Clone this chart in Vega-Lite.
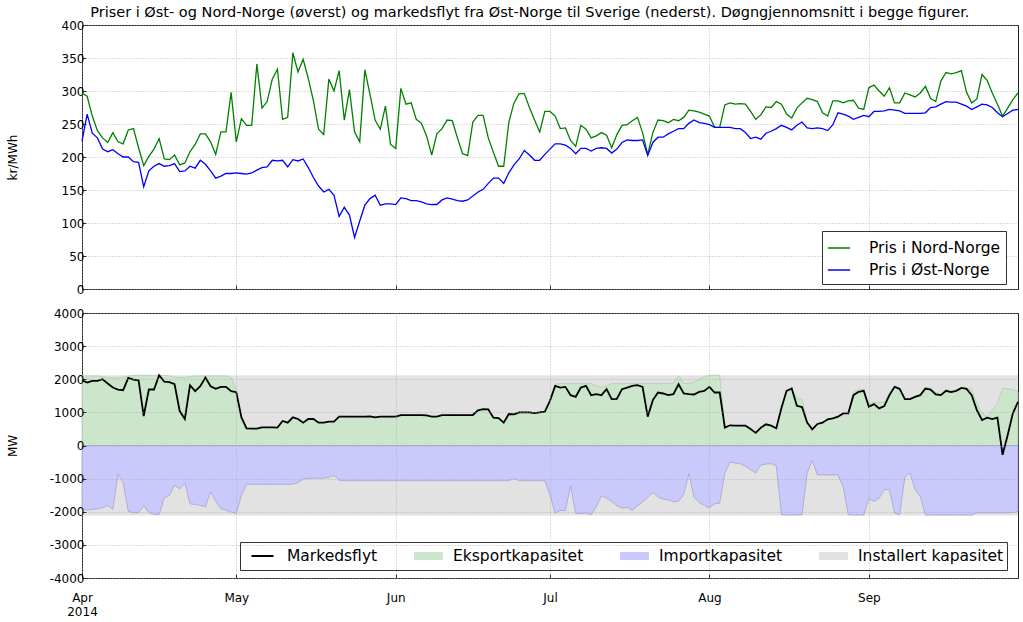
{
"$schema": "https://vega.github.io/schema/vega-lite/v6.json",
"background": "white",
"padding": 5,
"title": {"text": "Priser i Øst- og Nord-Norge (øverst) og markedsflyt fra Øst-Norge til Sverige (nederst). Døgngjennomsnitt i begge figurer.", "font": "DejaVu Sans", "fontSize": 14.5, "fontWeight": "normal", "color": "black", "anchor": "middle", "offset": -2, "dx": 16},
"config": {
  "font": "DejaVu Sans",
  "view": {"stroke": "#222", "strokeWidth": 1},
  "axis": {"labelFont": "DejaVu Sans", "labelFontSize": 12, "labelColor": "black", "titleFont": "DejaVu Sans", "titleFontSize": 12, "titleFontWeight": "normal", "titleColor": "black", "domain": false, "gridColor": "#aaaaaa", "gridDash": [1, 2], "gridWidth": 0.8, "tickColor": "#333", "tickSize": -4, "labelFlush": false, "labelOverlap": false}
},
"spacing": 24,
"bounds": "flush",
"resolve": {"scale": {"color": "independent"}, "legend": {"color": "independent"}},
"data": {"values": [
{"date":"2014-04-01","nord":297,"ost":224,"flyt":1970,"eksport":2100,"import":-1910},
{"date":"2014-04-02","nord":292,"ost":265,"flyt":1900,"eksport":2100,"import":-1950},
{"date":"2014-04-03","nord":262,"ost":236,"flyt":1950,"eksport":2100,"import":-1930},
{"date":"2014-04-04","nord":240,"ost":229,"flyt":1950,"eksport":2100,"import":-1910},
{"date":"2014-04-05","nord":229,"ost":212,"flyt":2000,"eksport":2080,"import":-1880},
{"date":"2014-04-06","nord":222,"ost":208,"flyt":1870,"eksport":2050,"import":-1810},
{"date":"2014-04-07","nord":237,"ost":211,"flyt":1750,"eksport":2040,"import":-1930},
{"date":"2014-04-08","nord":223,"ost":205,"flyt":1690,"eksport":2040,"import":-860},
{"date":"2014-04-09","nord":220,"ost":200,"flyt":1670,"eksport":2060,"import":-1130},
{"date":"2014-04-10","nord":241,"ost":200,"flyt":2040,"eksport":2100,"import":-1990},
{"date":"2014-04-11","nord":243,"ost":193,"flyt":1990,"eksport":2120,"import":-2030},
{"date":"2014-04-12","nord":214,"ost":192,"flyt":1970,"eksport":2120,"import":-2030},
{"date":"2014-04-13","nord":187,"ost":155,"flyt":890,"eksport":2120,"import":-1810},
{"date":"2014-04-14","nord":201,"ost":179,"flyt":1690,"eksport":2120,"import":-2030},
{"date":"2014-04-15","nord":212,"ost":186,"flyt":1690,"eksport":2120,"import":-2080},
{"date":"2014-04-16","nord":228,"ost":190,"flyt":2120,"eksport":2120,"import":-2080},
{"date":"2014-04-17","nord":197,"ost":186,"flyt":1930,"eksport":2120,"import":-1580},
{"date":"2014-04-18","nord":196,"ost":187,"flyt":1910,"eksport":2100,"import":-1510},
{"date":"2014-04-19","nord":203,"ost":190,"flyt":1850,"eksport":2060,"import":-1200},
{"date":"2014-04-20","nord":188,"ost":178,"flyt":1040,"eksport":2050,"import":-1310},
{"date":"2014-04-21","nord":191,"ost":179,"flyt":800,"eksport":2050,"import":-1130},
{"date":"2014-04-22","nord":208,"ost":186,"flyt":1820,"eksport":2080,"import":-1760},
{"date":"2014-04-23","nord":219,"ost":183,"flyt":1640,"eksport":2100,"import":-1780},
{"date":"2014-04-24","nord":235,"ost":195,"flyt":1790,"eksport":2100,"import":-1810},
{"date":"2014-04-25","nord":235,"ost":189,"flyt":2050,"eksport":2100,"import":-1850},
{"date":"2014-04-26","nord":223,"ost":179,"flyt":1790,"eksport":2100,"import":-1400},
{"date":"2014-04-27","nord":204,"ost":168,"flyt":1710,"eksport":2100,"import":-1680},
{"date":"2014-04-28","nord":238,"ost":171,"flyt":1770,"eksport":2100,"import":-1910},
{"date":"2014-04-29","nord":238,"ost":175,"flyt":1770,"eksport":2100,"import":-1950},
{"date":"2014-04-30","nord":298,"ost":175,"flyt":1640,"eksport":2050,"import":-2010},
{"date":"2014-05-01","nord":223,"ost":176,"flyt":1610,"eksport":1650,"import":-2050},
{"date":"2014-05-02","nord":258,"ost":175,"flyt":850,"eksport":850,"import":-1500},
{"date":"2014-05-03","nord":248,"ost":174,"flyt":520,"eksport":520,"import":-1170},
{"date":"2014-05-04","nord":248,"ost":176,"flyt":510,"eksport":510,"import":-1170},
{"date":"2014-05-05","nord":341,"ost":180,"flyt":510,"eksport":510,"import":-1170},
{"date":"2014-05-06","nord":274,"ost":184,"flyt":550,"eksport":550,"import":-1170},
{"date":"2014-05-07","nord":284,"ost":185,"flyt":550,"eksport":550,"import":-1170},
{"date":"2014-05-08","nord":318,"ost":195,"flyt":550,"eksport":550,"import":-1170},
{"date":"2014-05-09","nord":333,"ost":194,"flyt":540,"eksport":540,"import":-1170},
{"date":"2014-05-10","nord":257,"ost":195,"flyt":740,"eksport":740,"import":-1170},
{"date":"2014-05-11","nord":260,"ost":185,"flyt":690,"eksport":690,"import":-1170},
{"date":"2014-05-12","nord":358,"ost":196,"flyt":850,"eksport":850,"import":-1170},
{"date":"2014-05-13","nord":329,"ost":194,"flyt":800,"eksport":800,"import":-1120},
{"date":"2014-05-14","nord":348,"ost":197,"flyt":690,"eksport":690,"import":-1010},
{"date":"2014-05-15","nord":319,"ost":184,"flyt":800,"eksport":800,"import":-990},
{"date":"2014-05-16","nord":285,"ost":169,"flyt":800,"eksport":800,"import":-990},
{"date":"2014-05-17","nord":242,"ost":156,"flyt":690,"eksport":690,"import":-990},
{"date":"2014-05-18","nord":234,"ost":147,"flyt":690,"eksport":690,"import":-990},
{"date":"2014-05-19","nord":318,"ost":151,"flyt":720,"eksport":720,"import":-960},
{"date":"2014-05-20","nord":300,"ost":142,"flyt":720,"eksport":720,"import":-900},
{"date":"2014-05-21","nord":331,"ost":110,"flyt":870,"eksport":870,"import":-1050},
{"date":"2014-05-22","nord":256,"ost":124,"flyt":870,"eksport":870,"import":-1060},
{"date":"2014-05-23","nord":302,"ost":112,"flyt":870,"eksport":870,"import":-1060},
{"date":"2014-05-24","nord":238,"ost":78,"flyt":870,"eksport":870,"import":-1060},
{"date":"2014-05-25","nord":223,"ost":103,"flyt":870,"eksport":870,"import":-1060},
{"date":"2014-05-26","nord":332,"ost":127,"flyt":870,"eksport":870,"import":-1060},
{"date":"2014-05-27","nord":295,"ost":137,"flyt":880,"eksport":880,"import":-1060},
{"date":"2014-05-28","nord":256,"ost":142,"flyt":850,"eksport":850,"import":-1060},
{"date":"2014-05-29","nord":242,"ost":127,"flyt":870,"eksport":870,"import":-1060},
{"date":"2014-05-30","nord":277,"ost":129,"flyt":870,"eksport":870,"import":-1060},
{"date":"2014-05-31","nord":219,"ost":129,"flyt":870,"eksport":870,"import":-1060},
{"date":"2014-06-01","nord":213,"ost":128,"flyt":870,"eksport":870,"import":-1060},
{"date":"2014-06-02","nord":304,"ost":138,"flyt":920,"eksport":920,"import":-1060},
{"date":"2014-06-03","nord":280,"ost":137,"flyt":920,"eksport":920,"import":-1060},
{"date":"2014-06-04","nord":282,"ost":134,"flyt":920,"eksport":920,"import":-1060},
{"date":"2014-06-05","nord":257,"ost":134,"flyt":920,"eksport":920,"import":-1060},
{"date":"2014-06-06","nord":251,"ost":132,"flyt":920,"eksport":920,"import":-1060},
{"date":"2014-06-07","nord":232,"ost":129,"flyt":910,"eksport":910,"import":-1060},
{"date":"2014-06-08","nord":203,"ost":128,"flyt":870,"eksport":870,"import":-1060},
{"date":"2014-06-09","nord":235,"ost":128,"flyt":870,"eksport":870,"import":-1060},
{"date":"2014-06-10","nord":243,"ost":135,"flyt":920,"eksport":920,"import":-1060},
{"date":"2014-06-11","nord":256,"ost":138,"flyt":920,"eksport":920,"import":-1060},
{"date":"2014-06-12","nord":255,"ost":136,"flyt":920,"eksport":920,"import":-1060},
{"date":"2014-06-13","nord":229,"ost":134,"flyt":920,"eksport":920,"import":-1060},
{"date":"2014-06-14","nord":205,"ost":133,"flyt":920,"eksport":920,"import":-1060},
{"date":"2014-06-15","nord":202,"ost":135,"flyt":920,"eksport":920,"import":-1060},
{"date":"2014-06-16","nord":253,"ost":141,"flyt":920,"eksport":920,"import":-1060},
{"date":"2014-06-17","nord":263,"ost":147,"flyt":1060,"eksport":1060,"import":-1060},
{"date":"2014-06-18","nord":263,"ost":151,"flyt":1100,"eksport":1100,"import":-1060},
{"date":"2014-06-19","nord":229,"ost":160,"flyt":1090,"eksport":1090,"import":-1060},
{"date":"2014-06-20","nord":207,"ost":168,"flyt":840,"eksport":840,"import":-1060},
{"date":"2014-06-21","nord":186,"ost":168,"flyt":830,"eksport":830,"import":-1060},
{"date":"2014-06-22","nord":186,"ost":160,"flyt":690,"eksport":690,"import":-1060},
{"date":"2014-06-23","nord":253,"ost":176,"flyt":950,"eksport":950,"import":-1060},
{"date":"2014-06-24","nord":282,"ost":188,"flyt":940,"eksport":940,"import":-1000},
{"date":"2014-06-25","nord":296,"ost":197,"flyt":1000,"eksport":1000,"import":-1060},
{"date":"2014-06-26","nord":296,"ost":210,"flyt":1000,"eksport":1000,"import":-1060},
{"date":"2014-06-27","nord":275,"ost":203,"flyt":1000,"eksport":1000,"import":-1060},
{"date":"2014-06-28","nord":256,"ost":195,"flyt":980,"eksport":980,"import":-1060},
{"date":"2014-06-29","nord":238,"ost":195,"flyt":1000,"eksport":1000,"import":-1060},
{"date":"2014-06-30","nord":269,"ost":204,"flyt":1020,"eksport":1020,"import":-1060},
{"date":"2014-07-01","nord":269,"ost":212,"flyt":1350,"eksport":1400,"import":-1500},
{"date":"2014-07-02","nord":262,"ost":220,"flyt":1800,"eksport":1850,"import":-2040},
{"date":"2014-07-03","nord":243,"ost":220,"flyt":1750,"eksport":1870,"import":-1960},
{"date":"2014-07-04","nord":244,"ost":218,"flyt":1770,"eksport":1870,"import":-1960},
{"date":"2014-07-05","nord":225,"ost":213,"flyt":1520,"eksport":1870,"import":-1220},
{"date":"2014-07-06","nord":216,"ost":205,"flyt":1470,"eksport":1870,"import":-2040},
{"date":"2014-07-07","nord":248,"ost":213,"flyt":1750,"eksport":1870,"import":-2060},
{"date":"2014-07-08","nord":242,"ost":213,"flyt":1800,"eksport":1870,"import":-2040},
{"date":"2014-07-09","nord":229,"ost":209,"flyt":1520,"eksport":1870,"import":-2090},
{"date":"2014-07-10","nord":232,"ost":213,"flyt":1550,"eksport":1800,"import":-1840},
{"date":"2014-07-11","nord":237,"ost":214,"flyt":1520,"eksport":1750,"import":-1520},
{"date":"2014-07-12","nord":233,"ost":213,"flyt":1700,"eksport":1800,"import":-1590},
{"date":"2014-07-13","nord":214,"ost":206,"flyt":1400,"eksport":1870,"import":-1690},
{"date":"2014-07-14","nord":234,"ost":212,"flyt":1410,"eksport":1870,"import":-1820},
{"date":"2014-07-15","nord":248,"ost":222,"flyt":1700,"eksport":1870,"import":-1890},
{"date":"2014-07-16","nord":249,"ost":226,"flyt":1750,"eksport":1870,"import":-1870},
{"date":"2014-07-17","nord":255,"ost":225,"flyt":1800,"eksport":1870,"import":-1960},
{"date":"2014-07-18","nord":260,"ost":225,"flyt":1820,"eksport":1870,"import":-1820},
{"date":"2014-07-19","nord":237,"ost":226,"flyt":1770,"eksport":1870,"import":-1700},
{"date":"2014-07-20","nord":204,"ost":202,"flyt":870,"eksport":1870,"import":-1570},
{"date":"2014-07-21","nord":237,"ost":222,"flyt":1370,"eksport":1870,"import":-1420},
{"date":"2014-07-22","nord":256,"ost":230,"flyt":1600,"eksport":1870,"import":-1550},
{"date":"2014-07-23","nord":255,"ost":230,"flyt":1570,"eksport":1870,"import":-1620},
{"date":"2014-07-24","nord":252,"ost":235,"flyt":1520,"eksport":1870,"import":-1640},
{"date":"2014-07-25","nord":257,"ost":239,"flyt":1550,"eksport":1870,"import":-1700},
{"date":"2014-07-26","nord":255,"ost":243,"flyt":1850,"eksport":2110,"import":-1680},
{"date":"2014-07-27","nord":260,"ost":243,"flyt":1570,"eksport":1870,"import":-1480},
{"date":"2014-07-28","nord":271,"ost":251,"flyt":1550,"eksport":1880,"import":-850},
{"date":"2014-07-29","nord":270,"ost":256,"flyt":1540,"eksport":1920,"import":-1560},
{"date":"2014-07-30","nord":268,"ost":252,"flyt":1620,"eksport":2000,"import":-1720},
{"date":"2014-07-31","nord":265,"ost":251,"flyt":1650,"eksport":2080,"import":-1810},
{"date":"2014-08-01","nord":262,"ost":249,"flyt":1770,"eksport":2120,"import":-1880},
{"date":"2014-08-02","nord":245,"ost":245,"flyt":1600,"eksport":2120,"import":-1760},
{"date":"2014-08-03","nord":245,"ost":245,"flyt":1600,"eksport":2120,"import":-1740},
{"date":"2014-08-04","nord":279,"ost":245,"flyt":540,"eksport":560,"import":-830},
{"date":"2014-08-05","nord":282,"ost":245,"flyt":610,"eksport":610,"import":-500},
{"date":"2014-08-06","nord":280,"ost":243,"flyt":600,"eksport":600,"import":-530},
{"date":"2014-08-07","nord":281,"ost":243,"flyt":600,"eksport":600,"import":-550},
{"date":"2014-08-08","nord":280,"ost":237,"flyt":600,"eksport":600,"import":-630},
{"date":"2014-08-09","nord":269,"ost":228,"flyt":500,"eksport":500,"import":-730},
{"date":"2014-08-10","nord":257,"ost":230,"flyt":380,"eksport":380,"import":-830},
{"date":"2014-08-11","nord":264,"ost":227,"flyt":540,"eksport":540,"import":-590},
{"date":"2014-08-12","nord":276,"ost":236,"flyt":640,"eksport":640,"import":-560},
{"date":"2014-08-13","nord":275,"ost":239,"flyt":600,"eksport":600,"import":-550},
{"date":"2014-08-14","nord":284,"ost":243,"flyt":520,"eksport":520,"import":-610},
{"date":"2014-08-15","nord":280,"ost":248,"flyt":1130,"eksport":1130,"import":-2090},
{"date":"2014-08-16","nord":265,"ost":245,"flyt":1650,"eksport":1650,"import":-2100},
{"date":"2014-08-17","nord":259,"ost":241,"flyt":1720,"eksport":1720,"import":-2100},
{"date":"2014-08-18","nord":274,"ost":248,"flyt":1200,"eksport":1420,"import":-2100},
{"date":"2014-08-19","nord":282,"ost":253,"flyt":1160,"eksport":1400,"import":-2090},
{"date":"2014-08-20","nord":289,"ost":244,"flyt":690,"eksport":700,"import":-830},
{"date":"2014-08-21","nord":287,"ost":243,"flyt":490,"eksport":490,"import":-450},
{"date":"2014-08-22","nord":284,"ost":244,"flyt":650,"eksport":650,"import":-890},
{"date":"2014-08-23","nord":267,"ost":243,"flyt":690,"eksport":690,"import":-890},
{"date":"2014-08-24","nord":262,"ost":240,"flyt":790,"eksport":790,"import":-890},
{"date":"2014-08-25","nord":285,"ost":249,"flyt":820,"eksport":820,"import":-890},
{"date":"2014-08-26","nord":285,"ost":267,"flyt":870,"eksport":870,"import":-890},
{"date":"2014-08-27","nord":282,"ost":265,"flyt":970,"eksport":970,"import":-1240},
{"date":"2014-08-28","nord":285,"ost":262,"flyt":970,"eksport":970,"import":-2090},
{"date":"2014-08-29","nord":286,"ost":257,"flyt":1520,"eksport":1600,"import":-2100},
{"date":"2014-08-30","nord":274,"ost":260,"flyt":1620,"eksport":1680,"import":-2100},
{"date":"2014-08-31","nord":272,"ost":263,"flyt":1650,"eksport":1700,"import":-2100},
{"date":"2014-09-01","nord":305,"ost":261,"flyt":1170,"eksport":1250,"import":-1600},
{"date":"2014-09-02","nord":309,"ost":269,"flyt":1250,"eksport":1300,"import":-1690},
{"date":"2014-09-03","nord":300,"ost":269,"flyt":1120,"eksport":1300,"import":-1590},
{"date":"2014-09-04","nord":292,"ost":270,"flyt":1190,"eksport":1300,"import":-1330},
{"date":"2014-09-05","nord":305,"ost":272,"flyt":1520,"eksport":1600,"import":-1330},
{"date":"2014-09-06","nord":282,"ost":271,"flyt":1770,"eksport":1800,"import":-2040},
{"date":"2014-09-07","nord":282,"ost":270,"flyt":1710,"eksport":1750,"import":-2090},
{"date":"2014-09-08","nord":297,"ost":266,"flyt":1400,"eksport":1420,"import":-950},
{"date":"2014-09-09","nord":294,"ost":266,"flyt":1400,"eksport":1420,"import":-830},
{"date":"2014-09-10","nord":291,"ost":266,"flyt":1470,"eksport":1500,"import":-1330},
{"date":"2014-09-11","nord":297,"ost":266,"flyt":1520,"eksport":1550,"import":-1540},
{"date":"2014-09-12","nord":307,"ost":267,"flyt":1720,"eksport":1740,"import":-2100},
{"date":"2014-09-13","nord":289,"ost":275,"flyt":1690,"eksport":1720,"import":-2100},
{"date":"2014-09-14","nord":284,"ost":276,"flyt":1540,"eksport":1600,"import":-2100},
{"date":"2014-09-15","nord":315,"ost":280,"flyt":1520,"eksport":1560,"import":-2100},
{"date":"2014-09-16","nord":328,"ost":284,"flyt":1650,"eksport":1680,"import":-2100},
{"date":"2014-09-17","nord":326,"ost":283,"flyt":1610,"eksport":1650,"import":-2100},
{"date":"2014-09-18","nord":328,"ost":283,"flyt":1650,"eksport":1680,"import":-2100},
{"date":"2014-09-19","nord":331,"ost":280,"flyt":1740,"eksport":1760,"import":-2100},
{"date":"2014-09-20","nord":298,"ost":277,"flyt":1710,"eksport":1740,"import":-2100},
{"date":"2014-09-21","nord":282,"ost":272,"flyt":1520,"eksport":1700,"import":-2100},
{"date":"2014-09-22","nord":288,"ost":276,"flyt":1070,"eksport":1270,"import":-2030},
{"date":"2014-09-23","nord":325,"ost":280,"flyt":770,"eksport":970,"import":-2030},
{"date":"2014-09-24","nord":316,"ost":279,"flyt":840,"eksport":870,"import":-2030},
{"date":"2014-09-25","nord":297,"ost":275,"flyt":800,"eksport":1070,"import":-2030},
{"date":"2014-09-26","nord":280,"ost":267,"flyt":840,"eksport":1270,"import":-2030},
{"date":"2014-09-27","nord":262,"ost":261,"flyt":-280,"eksport":1720,"import":-2030},
{"date":"2014-09-28","nord":274,"ost":266,"flyt":320,"eksport":1720,"import":-2030},
{"date":"2014-09-29","nord":287,"ost":271,"flyt":970,"eksport":1690,"import":-2030},
{"date":"2014-09-30","nord":297,"ost":272,"flyt":1320,"eksport":1620,"import":-1990}
]},
"vconcat": [
{
  "width": 936, "height": 264,
  "encoding": {
    "x": {"field": "date", "type": "temporal",
      "scale": {"type": "utc", "domain": [{"year": 2014, "month": 4, "date": 1, "utc": true}, {"year": 2014, "month": 9, "date": 30, "utc": true}]},
      "axis": {"title": null, "labels": false, "grid": true, "ticks": true,
        "values": [{"year": 2014, "month": 4, "date": 1, "utc": true}, {"year": 2014, "month": 5, "date": 1, "utc": true}, {"year": 2014, "month": 6, "date": 1, "utc": true}, {"year": 2014, "month": 7, "date": 1, "utc": true}, {"year": 2014, "month": 8, "date": 1, "utc": true}, {"year": 2014, "month": 9, "date": 1, "utc": true}]}}
  },
  "layer": [
    {"mark": {"type": "line", "strokeWidth": 1.3},
     "encoding": {
       "y": {"field": "nord", "type": "quantitative", "scale": {"domain": [0, 400]},
         "axis": {"title": "kr/MWh", "values": [0, 50, 100, 150, 200, 250, 300, 350, 400], "labelExpr": "'' + datum.value", "grid": true, "minExtent": 58, "maxExtent": 58, "titlePadding": 5}},
       "color": {"datum": "Pris i Nord-Norge", "type": "nominal",
         "scale": {"domain": ["Pris i Nord-Norge", "Pris i Øst-Norge"], "range": ["#008000", "#0000ff"]},
         "legend": {"title": null, "orient": "none", "legendX": 740, "legendY": 206, "symbolType": "stroke", "symbolSize": 500, "symbolStrokeWidth": 1.5, "labelFontSize": 15.5, "labelFont": "DejaVu Sans", "labelColor": "black", "strokeColor": "#333", "fillColor": "white", "padding": 5, "rowPadding": 1, "labelOffset": 18}}
     }},
    {"mark": {"type": "line", "strokeWidth": 1.3},
     "encoding": {
       "y": {"field": "ost", "type": "quantitative",
         "axis": {"title": "kr/MWh", "values": [0, 50, 100, 150, 200, 250, 300, 350, 400], "labelExpr": "'' + datum.value", "grid": true, "minExtent": 58, "maxExtent": 58, "titlePadding": 5}},
       "color": {"datum": "Pris i Øst-Norge", "type": "nominal"}
     }}
  ]
},
{
  "width": 936, "height": 265,
  "encoding": {
    "x": {"field": "date", "type": "temporal",
      "scale": {"type": "utc", "domain": [{"year": 2014, "month": 4, "date": 1, "utc": true}, {"year": 2014, "month": 9, "date": 30, "utc": true}]},
      "axis": {"title": null, "grid": true, "ticks": true, "zindex": 1, "labelPadding": 18,
        "labelExpr": "utcFormat(datum.value, '%b') == 'Apr' ? ['Apr', '2014'] : utcFormat(datum.value, '%b')",
        "values": [{"year": 2014, "month": 4, "date": 1, "utc": true}, {"year": 2014, "month": 5, "date": 1, "utc": true}, {"year": 2014, "month": 6, "date": 1, "utc": true}, {"year": 2014, "month": 7, "date": 1, "utc": true}, {"year": 2014, "month": 8, "date": 1, "utc": true}, {"year": 2014, "month": 9, "date": 1, "utc": true}]}}
  },
  "layer": [
    {"mark": {"type": "area"},
     "encoding": {
       "y": {"datum": -2110, "type": "quantitative", "scale": {"domain": [-4000, 4000]},
         "axis": {"title": "MW", "values": [-4000, -3000, -2000, -1000, 0, 1000, 2000, 3000, 4000], "labelExpr": "'' + datum.value", "grid": true, "zindex": 1, "minExtent": 58, "maxExtent": 58, "titlePadding": 5}},
       "y2": {"datum": 2120},
       "color": {"datum": "Installert kapasitet", "type": "nominal",
         "scale": {"domain": ["Markedsflyt", "Eksportkapasitet", "Importkapasitet", "Installert kapasitet"], "range": ["#000000", "#cbe6cb", "#c9c9fb", "#e2e2e2"]},
         "legend": {"title": null, "orient": "none", "direction": "horizontal", "legendX": 158, "legendY": 229, "symbolSize": 841, "clipHeight": 22, "symbolOffset": 5, "symbolStrokeWidth": 0, "labelFontSize": 15.5, "labelFont": "DejaVu Sans", "labelColor": "black", "strokeColor": "#333", "fillColor": "white", "padding": 3, "columnPadding": 31, "labelOffset": 10,
           "encode": {"symbols": {"update": {
             "shape": {"signal": "datum.value === 'Markedsflyt' ? 'M-0.76,-0.07H0.76V0.07H-0.76Z' : 'M-1,-0.28H1V0.28H-1Z'"},
             "fill": {"signal": "datum.value === 'Markedsflyt' ? '#000000' : datum.value === 'Eksportkapasitet' ? '#cbe6cb' : datum.value === 'Importkapasitet' ? '#c9c9fb' : '#e2e2e2'"},
             "stroke": {"value": "transparent"},
             "strokeWidth": {"value": 0}}}}}}
     }},
    {"mark": {"type": "area", "stroke": "#a9cfa9", "strokeWidth": 0.7},
     "encoding": {
       "y": {"field": "eksport", "type": "quantitative",
         "axis": {"title": "MW", "values": [-4000, -3000, -2000, -1000, 0, 1000, 2000, 3000, 4000], "labelExpr": "'' + datum.value", "grid": true, "zindex": 1, "minExtent": 58, "maxExtent": 58, "titlePadding": 5}},
       "y2": {"datum": 0},
       "color": {"datum": "Eksportkapasitet", "type": "nominal"}
     }},
    {"mark": {"type": "area", "stroke": "#9c9cd0", "strokeWidth": 0.7},
     "encoding": {
       "y": {"field": "import", "type": "quantitative",
         "axis": {"title": "MW", "values": [-4000, -3000, -2000, -1000, 0, 1000, 2000, 3000, 4000], "labelExpr": "'' + datum.value", "grid": true, "zindex": 1, "minExtent": 58, "maxExtent": 58, "titlePadding": 5}},
       "y2": {"datum": 0},
       "color": {"datum": "Importkapasitet", "type": "nominal"}
     }},
    {"mark": {"type": "line", "strokeWidth": 1.8},
     "encoding": {
       "y": {"field": "flyt", "type": "quantitative",
         "axis": {"title": "MW", "values": [-4000, -3000, -2000, -1000, 0, 1000, 2000, 3000, 4000], "labelExpr": "'' + datum.value", "grid": true, "zindex": 1, "minExtent": 58, "maxExtent": 58, "titlePadding": 5}},
       "color": {"datum": "Markedsflyt", "type": "nominal"}
     }}
  ]
}
]
}
